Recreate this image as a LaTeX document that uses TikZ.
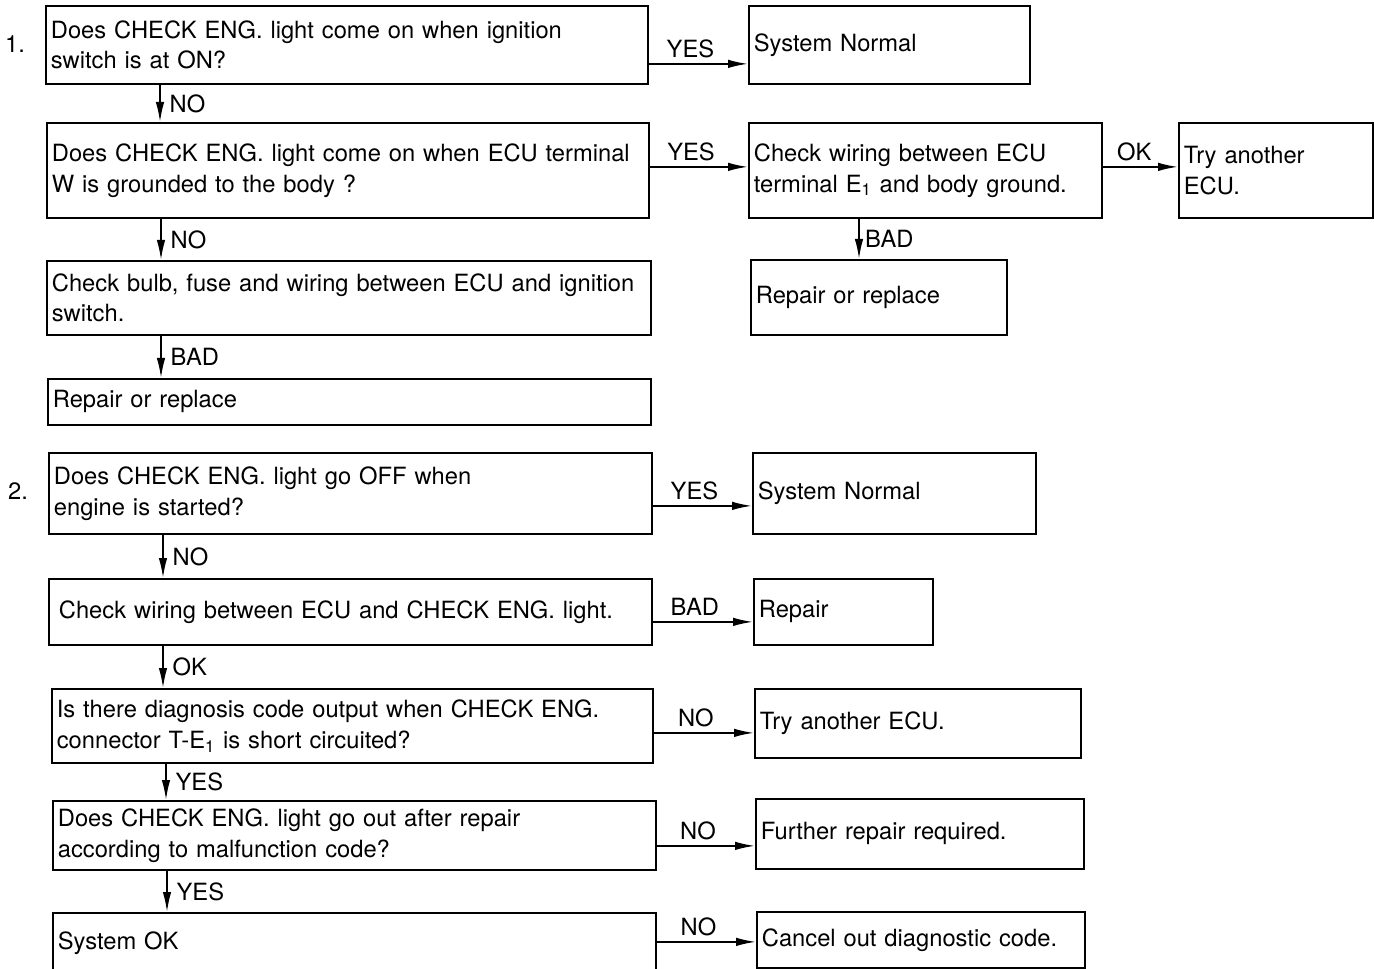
\documentclass[tikz,border=0pt]{standalone}
\usepackage{fontspec}
\setmainfont{TeX Gyre Heros}
\usetikzlibrary{arrows.meta,positioning,calc}
\hyphenpenalty=10000
\newcommand{\chartfont}{\fontsize{13.5}{17.5}\selectfont}
\tikzset{
  chkbox/.style={draw, line width=1pt, anchor=north west, align=left,
    inner xsep=0.1cm, font=\chartfont},
  flow/.style={-{Latex[length=4mm,width=1.7mm]}, line width=1pt},
  lbl/.style={font=\chartfont, inner sep=3pt}
}

\begin{document}
\begin{tikzpicture}
\clip (0,0) rectangle (27.48,-19.38);

% Part 1
\node[lbl] (one) at (0.30,-0.88) {1.};
\node[chkbox, text width=11.84cm, minimum height=1.56cm] (q1) at (0.90,-0.10) {Does CHECK ENG. light come on when ignition\\switch is at ON?};
\node[chkbox, text width=5.42cm, minimum height=1.56cm] (n1) at (14.96,-0.10) {System Normal};
\node[chkbox, text width=11.84cm, minimum height=1.90cm] (q2) at (0.92,-2.44) {Does CHECK ENG. light come on when ECU terminal\\W is grounded to the body ?};
\node[chkbox, text width=6.86cm, minimum height=1.90cm] (c1) at (14.96,-2.44) {Check wiring between ECU\\terminal E\textsubscript{1} and body ground.};
\node[chkbox, text width=3.68cm, minimum height=1.90cm] (t1) at (23.56,-2.44) {Try another\\ECU.};
\node[chkbox, text width=4.92cm, minimum height=1.50cm] (r1) at (15.00,-5.18) {Repair or replace};
\node[chkbox, text width=11.88cm, minimum height=1.48cm] (b1) at (0.92,-5.20) {Check bulb, fuse and wiring between ECU and ignition\\switch.};
\node[chkbox, text width=11.86cm, minimum height=0.92cm] (r2) at (0.94,-7.56) {Repair or replace};

% Part 2
\node[lbl] (two) at (0.36,-9.82) {2.};
\node[chkbox, text width=11.86cm, minimum height=1.62cm] (q3) at (0.96,-9.04) {Does CHECK ENG. light go OFF when\\engine is started?};
\node[chkbox, text width=5.46cm, minimum height=1.62cm] (n2) at (15.04,-9.04) {System Normal};
\node[chkbox, text width=11.86cm, minimum height=1.32cm] (c2) at (0.96,-11.56) {\hspace{0.1cm}Check wiring between ECU and CHECK ENG. light.};
\node[chkbox, text width=3.38cm, minimum height=1.32cm] (rp) at (15.06,-11.56) {Repair};
\node[chkbox, text width=11.82cm, minimum height=1.48cm] (q4) at (1.02,-13.76) {Is there diagnosis code output when CHECK ENG.\\connector T-E\textsubscript{1} is short circuited?};
\node[chkbox, text width=6.32cm, minimum height=1.38cm] (t2) at (15.08,-13.76) {Try another ECU.};
\node[chkbox, text width=11.86cm, minimum height=1.38cm] (q5) at (1.04,-16.00) {Does CHECK ENG. light go out after repair\\according to malfunction code?};
\node[chkbox, text width=6.36cm, minimum height=1.40cm] (fr) at (15.10,-15.96) {Further repair required.};
\node[chkbox, text width=11.86cm, minimum height=1.20cm] (ok) at (1.04,-18.24) {System OK};
\node[chkbox, text width=6.36cm, minimum height=1.12cm] (cc) at (15.12,-18.22) {Cancel out diagnostic code.};

% vertical connectors
\foreach \a/\b/\t in {q1/q2/NO, q2/b1/NO, b1/r2/BAD, q3/c2/NO, c2/q4/OK, q4/q5/YES, q5/ok/YES}{
  \coordinate (s\a) at ([xshift=2.3cm]\a.south west);
  \draw[flow] (s\a) -- (s\a |- \b.north) node[lbl, midway, right, xshift=2pt] {\t};
}
\coordinate (sc1) at ([xshift=2.22cm]c1.south west);
\draw[flow] (sc1) -- (sc1 |- r1.north) node[lbl, midway, right] {BAD};

% horizontal connectors
\foreach \a/\b/\t/\d in {q1/n1/YES/-0.38, q2/c1/YES/0.07, c1/t1/OK/0.07, q3/n2/YES/-0.25, c2/rp/BAD/-0.20, q4/t2/NO/-0.14, q5/fr/NO/-0.21, ok/cc/NO/0.02}{
  \coordinate (e\a) at ([yshift=\d cm]\a.east);
  \draw[flow] (e\a) -- (e\a -| \b.west) node[lbl, pos=0.42, above] {\t};
}
\end{tikzpicture}
\end{document}
